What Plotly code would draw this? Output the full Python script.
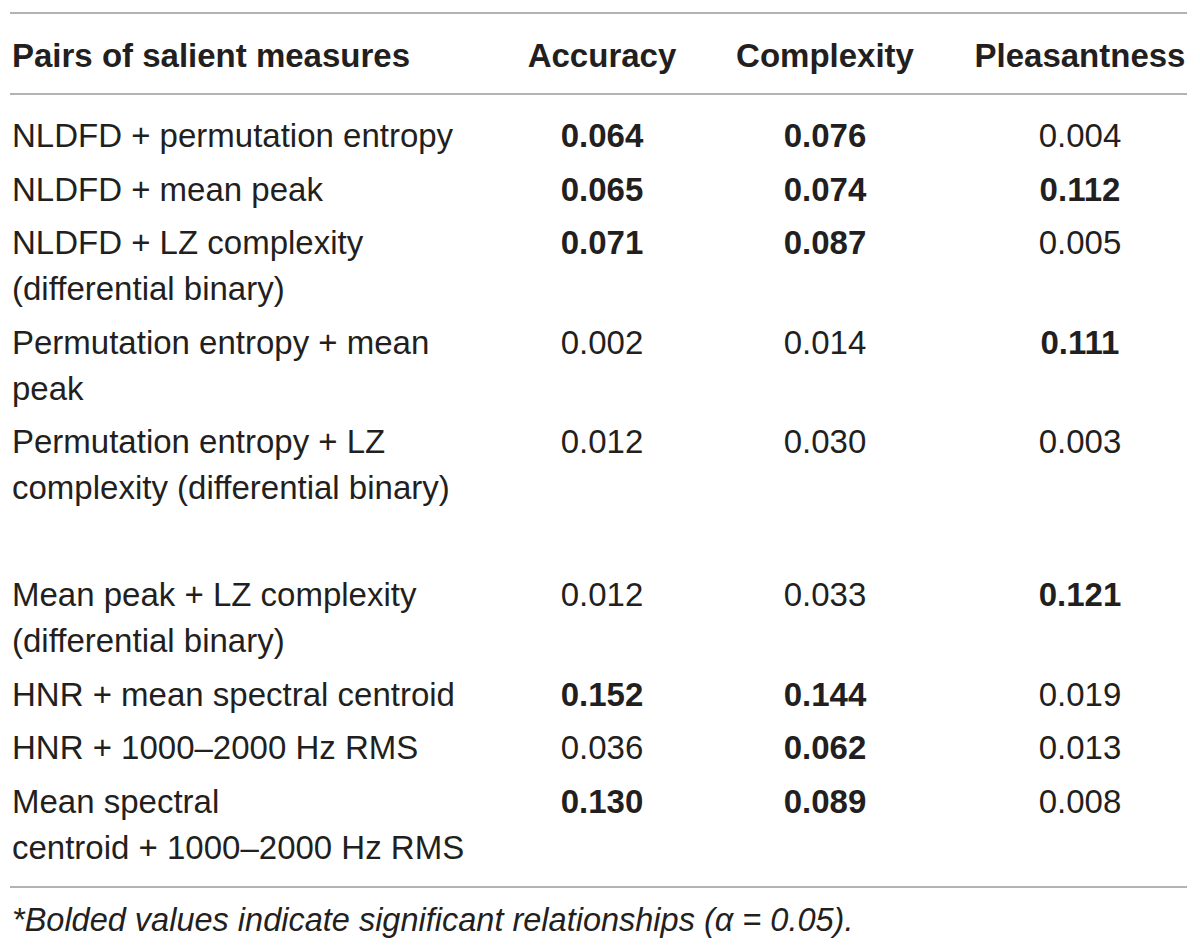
import plotly.graph_objects as go

# tabla de pares de medidas salientes
headers = ["Pairs of salient measures", "Accuracy", "Complexity", "Pleasantness"]

pairs = [
    ["NLDFD + permutation entropy"],
    ["NLDFD + mean peak"],
    ["NLDFD + LZ complexity", "(differential binary)"],
    ["Permutation entropy + mean", "peak"],
    ["Permutation entropy + LZ", "complexity (differential binary)"],
    ["Mean peak + LZ complexity", "(differential binary)"],
    ["HNR + mean spectral centroid"],
    ["HNR + 1000\u20132000 Hz RMS"],
    ["Mean spectral", "centroid + 1000\u20132000 Hz RMS"],
]

accuracy = [0.064, 0.065, 0.071, 0.002, 0.012, 0.012, 0.152, 0.036, 0.130]
complexity = [0.076, 0.074, 0.087, 0.014, 0.030, 0.033, 0.144, 0.062, 0.089]
pleasantness = [0.004, 0.112, 0.005, 0.111, 0.003, 0.121, 0.019, 0.013, 0.008]

accuracy_sig = [True, True, True, False, False, False, True, False, True]
complexity_sig = [True, True, True, False, False, False, True, True, True]
pleasantness_sig = [False, True, False, True, False, True, False, False, False]

footnote = "*Bolded values indicate significant relationships (\u03b1 = 0.05)."

# layout
W, H = 1200, 950
OFF = 8  # margen del body de la pagina
FONT = "Liberation Sans"
COLOR = "#231f20"
SIZE = 33
x_left = 12
col_x = [602, 825, 1080]
y_header = 59
y_first = 139
line_h = 46
row_gap = 53.5
extra_gap_after = {4: 53.5}  # fila con espacio en blanco debajo

# posiciones verticales de cada fila
row_y = []
y = y_first
for i, lines in enumerate(pairs):
    row_y.append(y)
    y += (len(lines) - 1) * line_h + row_gap + extra_gap_after.get(i, 0)

fig = go.Figure()

# cabecera
fig.add_trace(go.Scatter(
    x=[x_left], y=[y_header], mode="text", text=["<b>" + headers[0] + "</b>"],
    textposition="middle right", textfont=dict(family=FONT, size=SIZE, color=COLOR),
    hoverinfo="skip"))
fig.add_trace(go.Scatter(
    x=col_x, y=[y_header] * 3, mode="text", text=["<b>" + h + "</b>" for h in headers[1:]],
    textposition="middle center", textfont=dict(family=FONT, size=SIZE, color=COLOR),
    hoverinfo="skip"))

# primera columna
lab_x, lab_y, lab_t = [], [], []
for ry, lines in zip(row_y, pairs):
    for k, line in enumerate(lines):
        lab_x.append(x_left)
        lab_y.append(ry + k * line_h)
        lab_t.append(line)
fig.add_trace(go.Scatter(
    x=lab_x, y=lab_y, mode="text", text=lab_t, textposition="middle right",
    textfont=dict(family=FONT, size=SIZE, color=COLOR), hoverinfo="skip"))

# columnas de valores
for cx, vals, sig in zip(col_x, [accuracy, complexity, pleasantness],
                         [accuracy_sig, complexity_sig, pleasantness_sig]):
    txt = [("<b>%.3f</b>" % v) if s else ("%.3f" % v) for v, s in zip(vals, sig)]
    fig.add_trace(go.Scatter(
        x=[cx] * len(vals), y=row_y, mode="text", text=txt, textposition="middle center",
        textfont=dict(family=FONT, size=SIZE, color=COLOR), hoverinfo="skip"))

# nota al pie
fig.add_trace(go.Scatter(
    x=[x_left], y=[923], mode="text", text=["<i>" + footnote + "</i>"],
    textposition="middle right", textfont=dict(family=FONT, size=32.5, color=COLOR),
    hoverinfo="skip"))

# lineas horizontales
for ly in [13, 94, 887]:
    fig.add_shape(type="line", x0=10, x1=1187, y0=ly, y1=ly, xref="x", yref="y",
                  line=dict(color="#b3b3b3", width=2))

fig.update_layout(
    width=W, height=H,
    margin=dict(l=0, r=0, t=0, b=0),
    paper_bgcolor="white", plot_bgcolor="white",
    showlegend=False,
    xaxis=dict(range=[OFF, W + OFF], visible=False, fixedrange=True),
    yaxis=dict(range=[H + OFF, OFF], visible=False, fixedrange=True),
)

fig.write_html("out.html")
